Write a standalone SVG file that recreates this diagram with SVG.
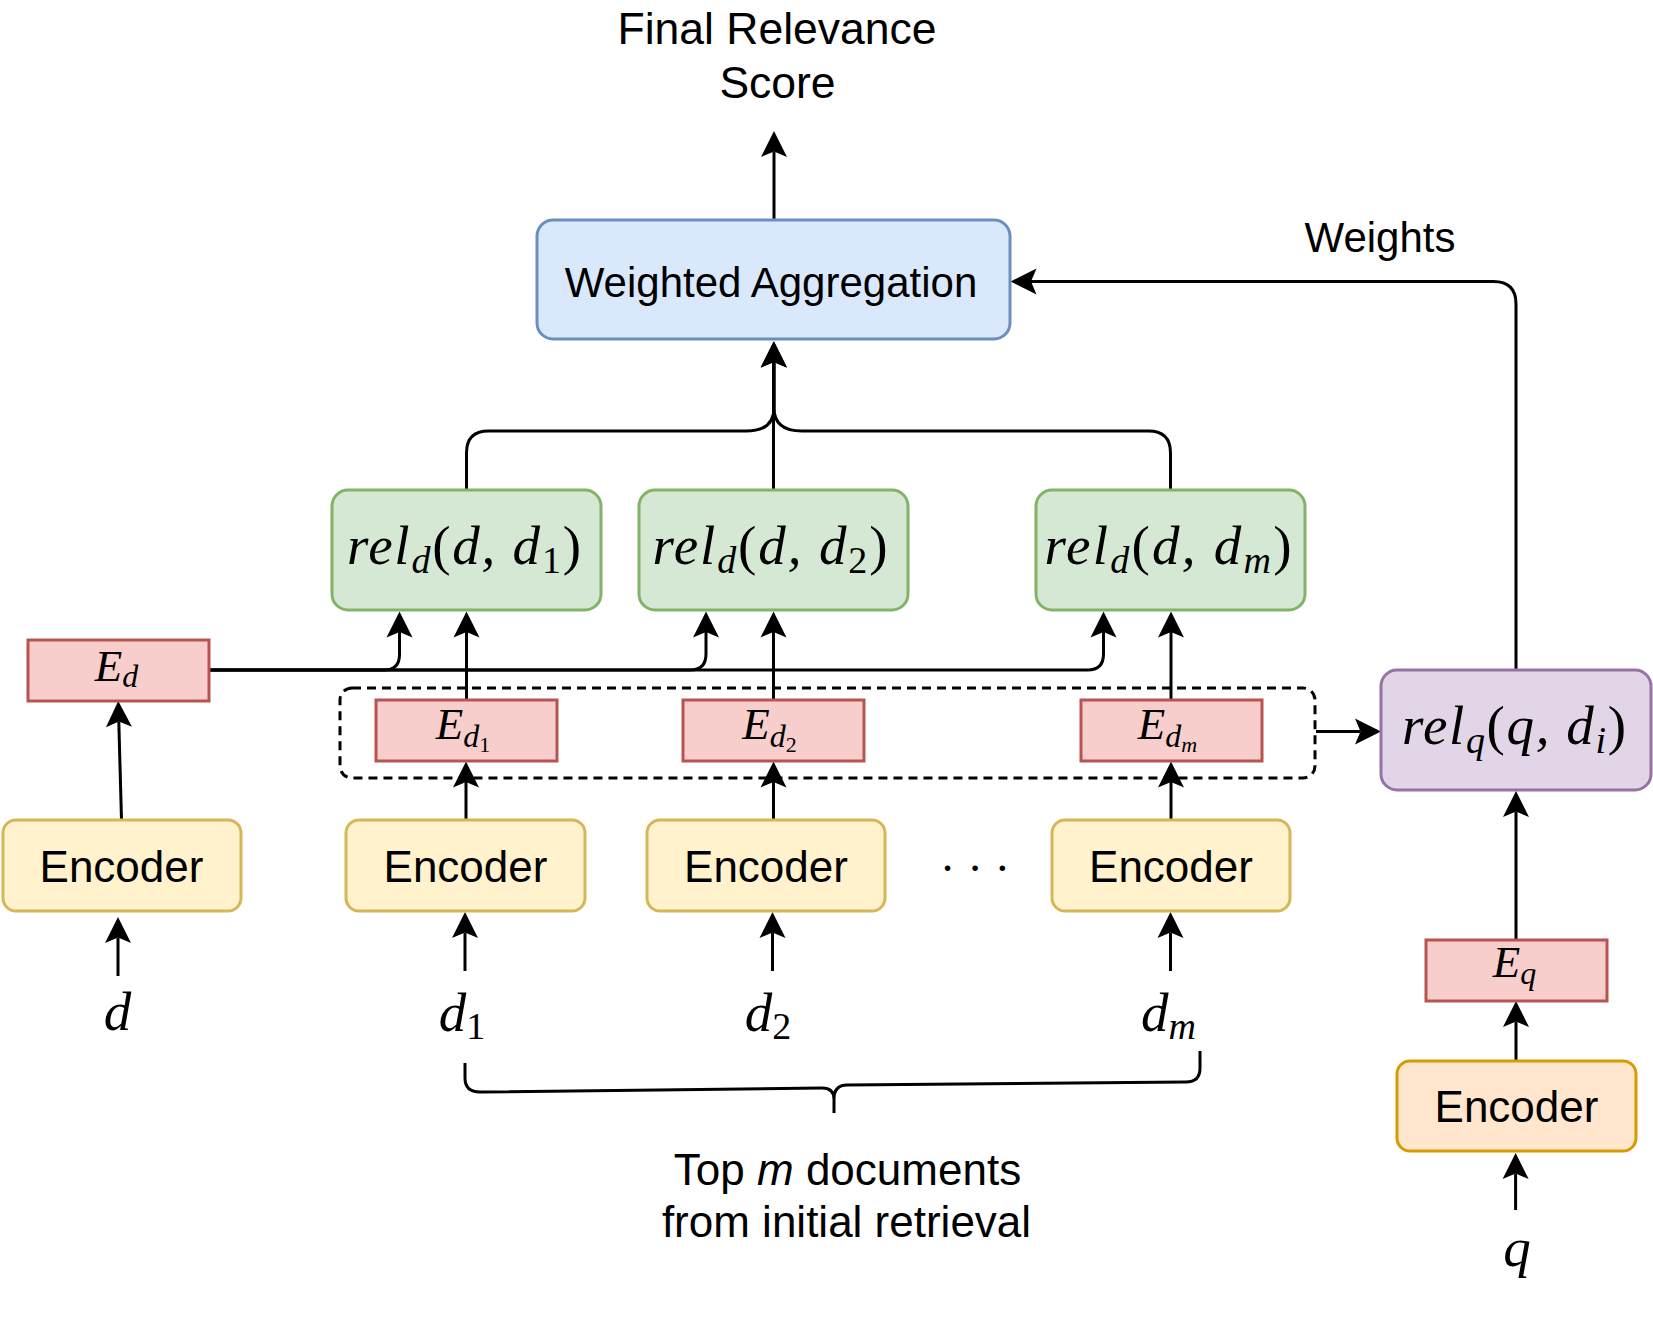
<svg xmlns="http://www.w3.org/2000/svg" width="1653" height="1329" viewBox="0 0 1653 1329">
<style>
.box{stroke-width:3}
.blue{fill:#dae8fc;stroke:#6c8ebf}
.green{fill:#d5e8d4;stroke:#82b366}
.red{fill:#f8cecc;stroke:#b85450}
.yellow{fill:#fff2cc;stroke:#d6b656}
.purple{fill:#e1d5e7;stroke:#9673a6}
.orange{fill:#ffe6cc;stroke:#d79b00}
.sans{font-family:"Liberation Sans",Arial,sans-serif;fill:#000;text-anchor:middle}
.math{font-family:"Liberation Serif","Times New Roman",serif;font-style:italic;fill:#000;text-anchor:middle}
.up{font-style:normal}
.conn{fill:none;stroke:#000;stroke-width:3;marker-end:url(#arr)}
.plain{fill:none;stroke:#000;stroke-width:3}
</style>
<defs>
<marker id="arr" markerUnits="userSpaceOnUse" markerWidth="30" markerHeight="30" refX="5.5" refY="13" orient="auto" overflow="visible">
<path d="M0,0 L26,13 L0,26 L5.5,13 Z" fill="#000"/>
</marker>
</defs>
<rect width="1653" height="1329" fill="#fff"/>

<g id="connectors">
<path class="conn" d="M774,220 V151.5"/>
<path class="conn" d="M466.5,490 V453 Q466.5,431 488.5,431 H746 Q774,431 774,408 V362"/>
<path class="conn" d="M773.5,490 V362"/>
<path class="conn" d="M1170.5,490 V453 Q1170.5,431 1148.5,431 H802 Q774,431 774,408 V362"/>
<path class="conn" d="M1516,670 V304 Q1516,281.5 1493.5,281.5 H1031"/>
<path class="conn" d="M209,670 H384 Q399.5,670 399.5,654.5 V632"/>
<path class="conn" d="M209,670 H690 Q706,670 706,654 V632"/>
<path class="conn" d="M209,670 H1087.5 Q1103.5,670 1103.5,654 V632"/>
<path class="conn" d="M466.5,700 V632"/>
<path class="conn" d="M773.5,700 V632"/>
<path class="conn" d="M1171,700 V632"/>
<path class="conn" d="M466,820 V782"/>
<path class="conn" d="M773.5,820 V782"/>
<path class="conn" d="M1171,820 V782"/>
<path class="conn" d="M121.5,820 L118.8,721.5"/>
<path class="conn" d="M1316,731.5 H1360.5"/>
<path class="conn" d="M1516,940 V811.5"/>
<path class="conn" d="M1516,1061 V1021.5"/>
<path class="conn" d="M118,976 V937.5"/>
<path class="conn" d="M465,971 V932.5"/>
<path class="conn" d="M772.5,971 V932.5"/>
<path class="conn" d="M1170.5,971 V932.5"/>
<path class="conn" d="M1515.6,1210 V1173.5"/>
</g>

<g id="dashed-group">
<rect x="340" y="688" width="975" height="90" rx="12" fill="none" stroke="#000" stroke-width="3" stroke-dasharray="9 6"/>
</g>

<g id="final-score-label">
<text class="sans" x="777" y="44" font-size="44.5">Final Relevance</text>
<text class="sans" x="777.5" y="98" font-size="44.5">Score</text>
</g>

<g id="weighted-aggregation">
<rect class="box blue" x="537" y="220" width="473" height="119" rx="16"/>
<text class="sans" x="771" y="297" font-size="42">Weighted Aggregation</text>
</g>

<g id="weights-label">
<text class="sans" x="1380" y="252" font-size="42">Weights</text>
</g>

<g id="rel-d1">
<rect class="box green" x="332" y="490" width="269" height="120" rx="16"/>
<text class="math" x="464" y="564" font-size="55" textLength="234" lengthAdjust="spacing">rel<tspan font-size="38" dy="9">d</tspan><tspan class="up" dy="-9">(</tspan>d, d<tspan class="up" font-size="38" dy="9">1</tspan><tspan class="up" dy="-9">)</tspan></text>
</g>
<g id="rel-d2">
<rect class="box green" x="639" y="490" width="269" height="120" rx="16"/>
<text class="math" x="770" y="564" font-size="55" textLength="235" lengthAdjust="spacing">rel<tspan font-size="38" dy="9">d</tspan><tspan class="up" dy="-9">(</tspan>d, d<tspan class="up" font-size="38" dy="9">2</tspan><tspan class="up" dy="-9">)</tspan></text>
</g>
<g id="rel-dm">
<rect class="box green" x="1036" y="490" width="269" height="120" rx="16"/>
<text class="math" x="1168" y="564" font-size="55" textLength="247" lengthAdjust="spacing">rel<tspan font-size="38" dy="9">d</tspan><tspan class="up" dy="-9">(</tspan>d, d<tspan font-size="38" dy="9">m</tspan><tspan class="up" dy="-9">)</tspan></text>
</g>
<g id="rel-q">
<rect class="box purple" x="1381" y="670" width="270" height="120" rx="16"/>
<text class="math" x="1514" y="744" font-size="55" textLength="224" lengthAdjust="spacing">rel<tspan font-size="38" dy="9">q</tspan><tspan class="up" dy="-9">(</tspan>q, d<tspan font-size="38" dy="9">i</tspan><tspan class="up" dy="-9">)</tspan></text>
</g>

<g id="E-d">
<rect class="box red" x="28" y="640" width="181" height="61"/>
<text class="math" x="116.5" y="681" font-size="45">E<tspan font-size="32" dy="6">d</tspan></text>
</g>
<g id="E-d1">
<rect class="box red" x="376" y="700" width="181" height="61"/>
<text class="math" x="463" y="739" font-size="45">E<tspan font-size="32" dy="8">d</tspan><tspan class="up" font-size="22" dy="5">1</tspan></text>
</g>
<g id="E-d2">
<rect class="box red" x="683" y="700" width="181" height="61"/>
<text class="math" x="769.5" y="739" font-size="45">E<tspan font-size="32" dy="8">d</tspan><tspan class="up" font-size="22" dy="5">2</tspan></text>
</g>
<g id="E-dm">
<rect class="box red" x="1081" y="700" width="181" height="61"/>
<text class="math" x="1167.5" y="739" font-size="45">E<tspan font-size="32" dy="8">d</tspan><tspan font-size="22" dy="5">m</tspan></text>
</g>
<g id="E-q">
<rect class="box red" x="1426" y="940" width="181" height="61"/>
<text class="math" x="1514.5" y="977" font-size="45">E<tspan font-size="32" dy="7">q</tspan></text>
</g>

<g id="encoder-d">
<rect class="box yellow" x="3" y="820" width="238" height="91" rx="13"/>
<text class="sans" x="121.5" y="882" font-size="44">Encoder</text>
</g>
<g id="encoder-d1">
<rect class="box yellow" x="346" y="820" width="239" height="91" rx="13"/>
<text class="sans" x="465.5" y="882" font-size="44">Encoder</text>
</g>
<g id="encoder-d2">
<rect class="box yellow" x="647" y="820" width="238" height="91" rx="13"/>
<text class="sans" x="766" y="882" font-size="44">Encoder</text>
</g>
<g id="ellipsis">
<text class="math" x="975" y="884" font-size="47" style="font-style:normal">· · ·</text>
</g>
<g id="encoder-dm">
<rect class="box yellow" x="1052" y="820" width="238" height="91" rx="13"/>
<text class="sans" x="1171" y="882" font-size="44">Encoder</text>
</g>
<g id="encoder-q">
<rect class="box orange" x="1397" y="1061" width="239" height="90" rx="13"/>
<text class="sans" x="1516.5" y="1122" font-size="44">Encoder</text>
</g>

<g id="input-d"><text class="math" x="117.5" y="1030" font-size="55">d</text></g>
<g id="input-d1"><text class="math" x="462" y="1031" font-size="55">d<tspan class="up" font-size="38" dy="8">1</tspan></text></g>
<g id="input-d2"><text class="math" x="768" y="1031" font-size="55">d<tspan class="up" font-size="38" dy="8">2</tspan></text></g>
<g id="input-dm"><text class="math" x="1168.5" y="1031" font-size="55">d<tspan font-size="38" dy="8">m</tspan></text></g>
<g id="input-q"><text class="math" x="1517" y="1266" font-size="55">q</text></g>

<g id="brace">
<path class="plain" d="M465,1063 V1078 Q465,1092 480,1092 L822,1088 Q834,1088 834,1099 V1113 M834,1099 Q834,1085 847,1085 L1186,1082 Q1200,1082 1200,1068 V1051"/>
<text class="sans" x="847.5" y="1185" font-size="44">Top <tspan font-style="italic">m</tspan> documents</text>
<text class="sans" x="846.5" y="1237" font-size="44">from initial retrieval</text>
</g>
</svg>
